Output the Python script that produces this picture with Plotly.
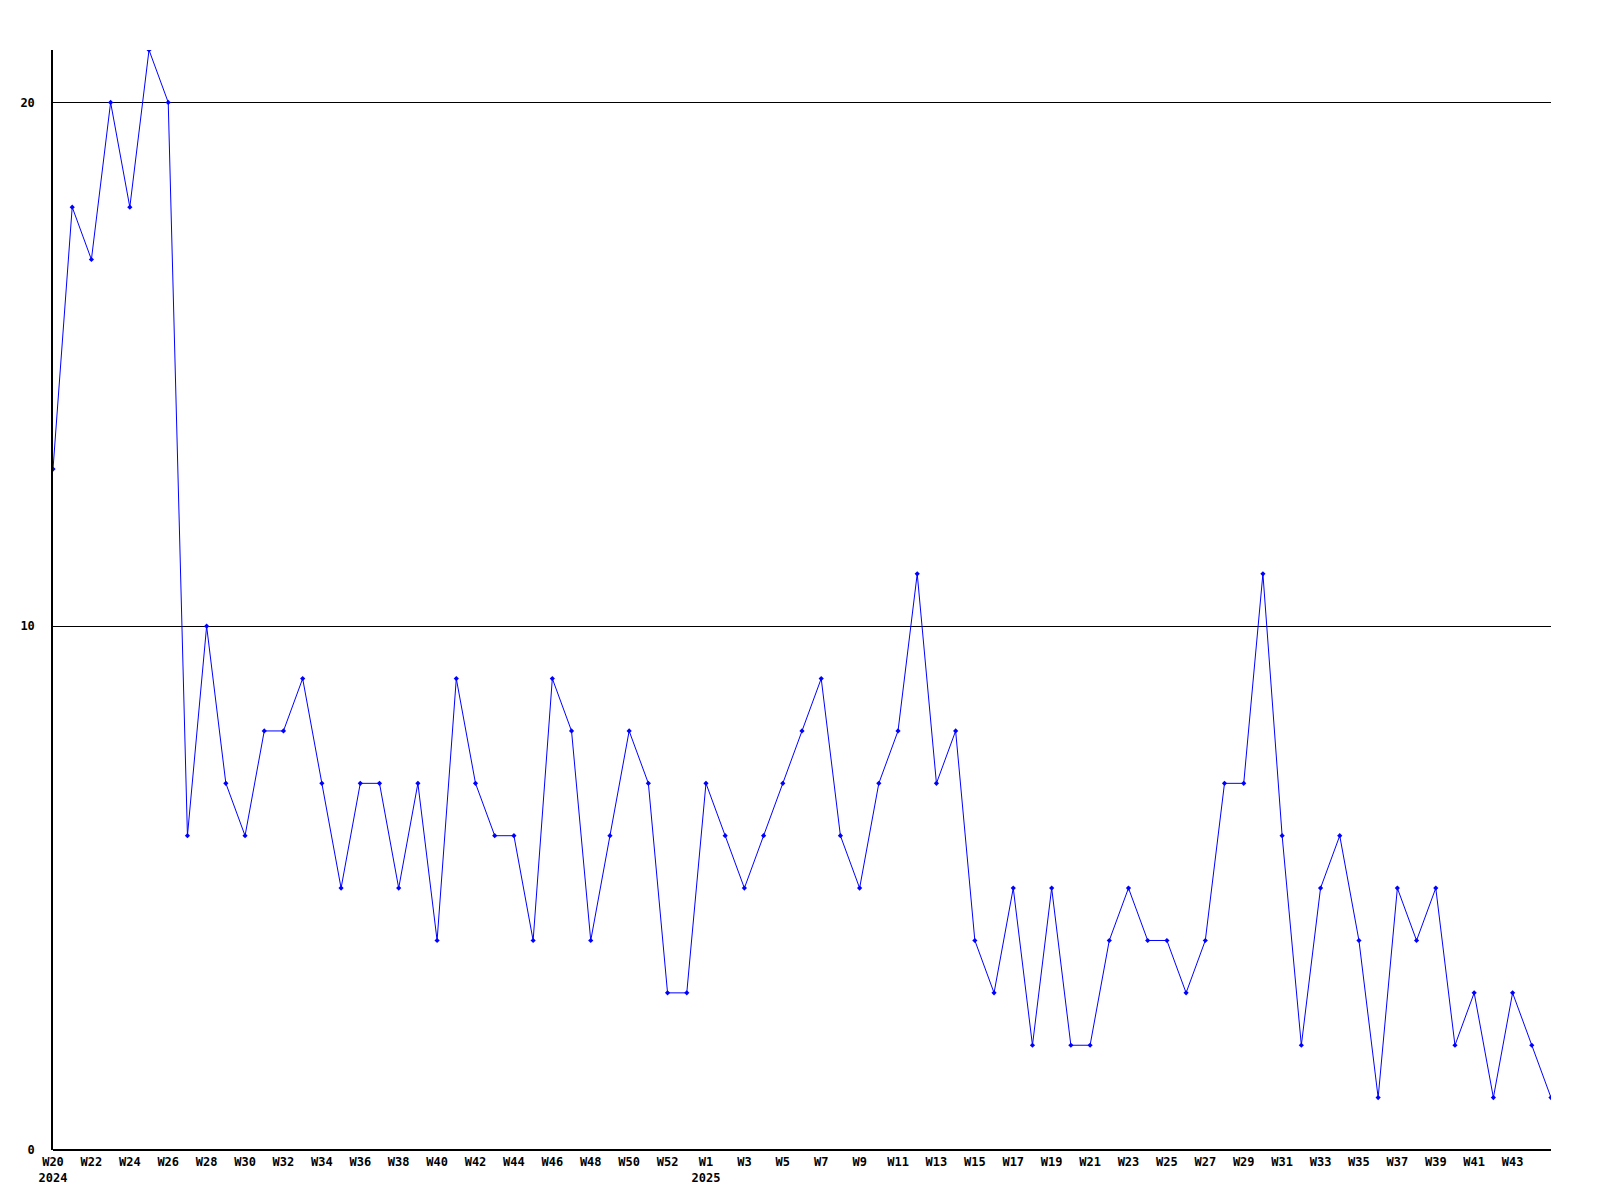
import plotly.graph_objects as go

weeks_2024 = [f"W{w}" for w in range(20, 54)]
weeks_2025 = [f"W{w}" for w in range(1, 46)]
categories = [c + " 2024" for c in weeks_2024] + [c + " 2025" for c in weeks_2025]

values = [13, 18, 17, 20, 18, 21, 20, 6, 10, 7, 6, 8, 8, 9, 7, 5, 7, 7, 5, 7,
          4, 9, 7, 6, 6, 4, 9, 8, 4, 6, 8, 7, 3, 3,
          7, 6, 5, 6, 7, 8, 9, 6, 5, 7, 8, 11, 7, 8, 4, 3, 5, 2, 5, 2,
          2, 4, 5, 4, 4, 3, 4, 7, 7, 11, 6, 2, 5, 6, 4, 1, 5, 4, 5, 2,
          3, 1, 3, 2, 1]

tick_labels_2024 = ["W20<br>2024"] + [f"W{w}" for w in range(22, 53, 2)]
tick_labels_2025 = ["W1<br>2025"] + [f"W{w}" for w in range(3, 44, 2)]

x_idx = list(range(len(values)))
tickvals = list(range(0, 33, 2)) + [34 + i * 2 for i in range(len(tick_labels_2025))]
ticktext = tick_labels_2024 + tick_labels_2025

fig = go.Figure()
fig.add_trace(go.Scatter(
    x=x_idx, y=values, mode="lines+markers",
    line=dict(color="#0000ff", width=1),
    marker=dict(symbol="diamond", size=4, color="#0000ff"),
    text=categories, hoverinfo="text+y",
))

tf = dict(family="DejaVu Sans Mono", size=12, color="black", weight="bold")
fig.update_layout(
    width=1600, height=1200,
    margin=dict(l=42, r=57, t=42, b=58),
    paper_bgcolor="white", plot_bgcolor="white",
    showlegend=False,
    font=dict(family="DejaVu Sans Mono", size=12, color="black"),
    xaxis=dict(range=[0, 78], tickvals=tickvals, ticktext=ticktext,
               showgrid=False, zeroline=False, showline=False,
               ticks="", tickangle=0, ticklabelstandoff=3, tickfont=tf),
    yaxis=dict(range=[0, 21], tickvals=[0, 10, 20], ticktext=["0", "10", "20"],
               showgrid=True, gridcolor="black", gridwidth=1,
               zeroline=True, zerolinecolor="black", zerolinewidth=1.5,
               showline=True, linecolor="black", linewidth=1.5,
               ticks="", ticklabelstandoff=14, tickfont=tf),
)
fig.write_html("out.html")
